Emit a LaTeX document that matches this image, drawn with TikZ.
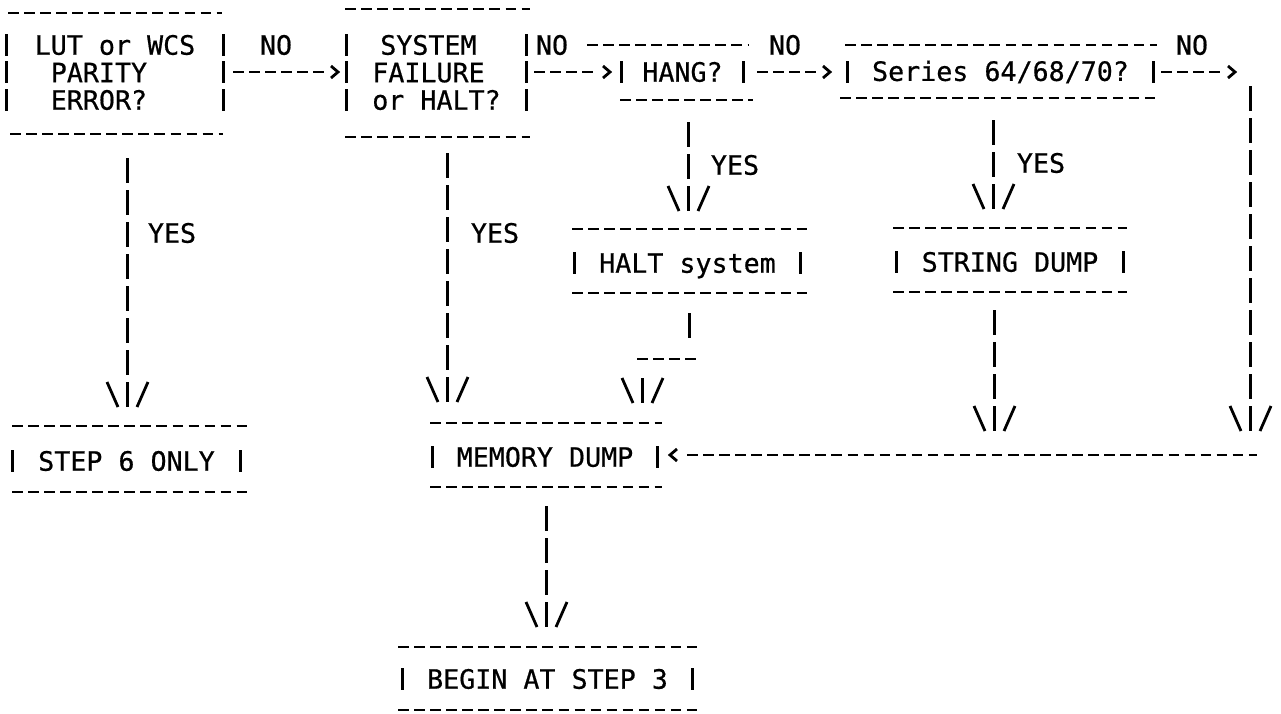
\documentclass[tikz,border=0pt]{standalone}
\usepackage{fontspec}
\newfontfamily\plotfont[FakeBold=0.6]{DejaVu Sans Mono}
% short pipes on both sides of a box, one per text row
\newcommand\sidepipes[2]{%
  \foreach \r in {#2}
    \draw[pipe] (#1.west |- 0,\r) ++(0,-11) -- ++(0,22)
                (#1.east |- 0,\r) ++(0,-11) -- ++(0,22);}
\begin{document}
\begin{tikzpicture}[x=0.5pt, y=-0.5pt,
  lbl/.style={font=\plotfont\fontsize{13.33pt}{13.75pt}\selectfont, inner sep=0pt, text=black},
  box/.style={lbl, rectangle, minimum height=10pt},
  hrun/.style={line width=1.4pt, dash pattern=on 5.25pt off 2.775pt},
  vrun/.style={line width=1.5pt, dash pattern=on 12.5pt off 3.5pt},
  pipe/.style={line width=1.5pt},
  barb/.style={line width=1.4pt},
  pics/downhead/.style={code={\draw[barb] (-20,-25) -- (-9,0) (21,-25) -- (10,0);}},
  pics/righthead/.style={code={\draw[barb] (-7,-6) -- (0,0) -- (-7,6);}},
  pics/lefthead/.style={code={\draw[barb] (7,-6) -- (0,0) -- (7,6);}},
]
\useasboundingbox (0,0) rectangle (1281,713);

% ---------- boxes ----------
\node[box, align=left, minimum width=108pt] (b1) at (115,72.5) {LUT or WCS\\\ PARITY\\\ ERROR?};
\draw[hrun] (8,13) -- (222,13);  \draw[hrun] (10,134) -- (223,134);
\sidepipes{b1}{45,72,100}

\node[box, align=left, minimum width=89.5pt] (b2) at (436.5,72.5) {\hspace*{4pt}SYSTEM\\FAILURE\\or HALT?};
\draw[hrun] (345,9) -- (530,9);  \draw[hrun] (345,137) -- (530,137);
\sidepipes{b2}{45,72,100}

\node[box, minimum width=60.5pt] (b3) at (682.5,72) {HANG?};
\draw[hrun] (587,45) -- (748,45);  \draw[hrun] (620,100) -- (753,100);
\sidepipes{b3}{72}

\node[box, minimum width=152.5pt] (b4) at (1000.5,72) {Series 64/68/70?};
\draw[hrun] (845,45) -- (1157,45);  \draw[hrun] (840,98) -- (1157,98);
\sidepipes{b4}{72}

\node[box, minimum width=112.5pt, text depth=0pt] (b5) at (687.5,263) {HALT system};
\draw[hrun] (572,229) -- (807,229);  \draw[hrun] (572,293) -- (807,293);
\sidepipes{b5}{263}

\node[box, minimum width=113pt] (b6) at (1010,262) {STRING DUMP};
\draw[hrun] (893,228) -- (1127,228);  \draw[hrun] (893,292) -- (1127,292);
\sidepipes{b6}{262}

\node[box, minimum width=113.5pt] (b7) at (126.5,461) {STEP 6 ONLY};
\draw[hrun] (12,426) -- (247,426);  \draw[hrun] (12,492) -- (247,492);
\sidepipes{b7}{461}

\node[box, minimum width=112pt] (b8) at (545,457) {MEMORY DUMP};
\draw[hrun] (430,423) -- (662,423);  \draw[hrun] (430,487) -- (662,487);
\sidepipes{b8}{457}

\node[box, minimum width=144.5pt] (b9) at (547.5,679) {BEGIN AT STEP 3};
\draw[hrun] (398,647) -- (697,647);  \draw[hrun] (398,710) -- (697,710);
\sidepipes{b9}{679}

% ---------- NO branches along the top ----------
\coordinate (n1a) at (233,72);  \coordinate (n1b) at (327,72);  \coordinate (n1h) at (338,72);
\coordinate (n2a) at (534,72);  \coordinate (n2b) at (596,72);  \coordinate (n2h) at (610,72);
\coordinate (n3a) at (757,72);  \coordinate (n3b) at (820,72);  \coordinate (n3h) at (830,72);
\coordinate (n4a) at (1161,72); \coordinate (n4b) at (1222,72); \coordinate (n4h) at (1235,72);
\foreach \c in {n1,n2,n3,n4} {\draw[hrun] (\c a) -- (\c b); \pic at (\c h) {righthead};}
\node[lbl] (no1) at (276,45) {NO};
\node[lbl] (no2) at (552,45) {NO};
\node[lbl] (no3) at (785,45) {NO};
\node[lbl] (no4) at (1192,45) {NO};

% right-hand return path into MEMORY DUMP
\coordinate (r1) at (1250,86);  \coordinate (r2) at (1250,431);
\draw[vrun] (r1) -- (r2);  \pic at (r2) {downhead};
\coordinate (m1) at (1257,455); \coordinate (m2) at (687,455); \coordinate (mh) at (670,455);
\draw[hrun] (m2) -- (m1);  \pic at (mh) {lefthead};

% ---------- YES branches ----------
\coordinate (y1a) at (127,158); \coordinate (y1b) at (127,407);
\coordinate (y2a) at (447,153); \coordinate (y2b) at (447,402);
\coordinate (y3a) at (688,122); \coordinate (y3b) at (688,211);
\coordinate (y4a) at (993,120); \coordinate (y4b) at (993,209);
\foreach \c in {y1,y2,y3,y4} {\draw[vrun] (\c a) -- (\c b); \pic at (\c b) {downhead};}
\node[lbl] (yes1) at (172,233) {YES};
\node[lbl] (yes2) at (495,233) {YES};
\node[lbl] (yes3) at (735,165) {YES};
\node[lbl] (yes4) at (1041,163) {YES};

% HALT system -> MEMORY DUMP (with a jog)
\coordinate (h1) at (689,313); \coordinate (h2) at (689,338);
\coordinate (h3) at (637,359); \coordinate (h4) at (695.5,359);
\coordinate (h5) at (642,378); \coordinate (h6) at (642,403);
\draw[vrun] (h1) -- (h2);
\draw[hrun] (h3) -- (h4);
\draw[vrun] (h5) -- (h6);  \pic at (h6) {downhead};

% STRING DUMP -> return line
\coordinate (s1) at (994,310); \coordinate (s2) at (994,431);
\draw[vrun] (s1) -- (s2);  \pic at (s2) {downhead};

% MEMORY DUMP -> BEGIN AT STEP 3
\coordinate (d1) at (546,506); \coordinate (d2) at (546,627);
\draw[vrun] (d1) -- (d2);  \pic at (d2) {downhead};
\end{tikzpicture}
\end{document}
